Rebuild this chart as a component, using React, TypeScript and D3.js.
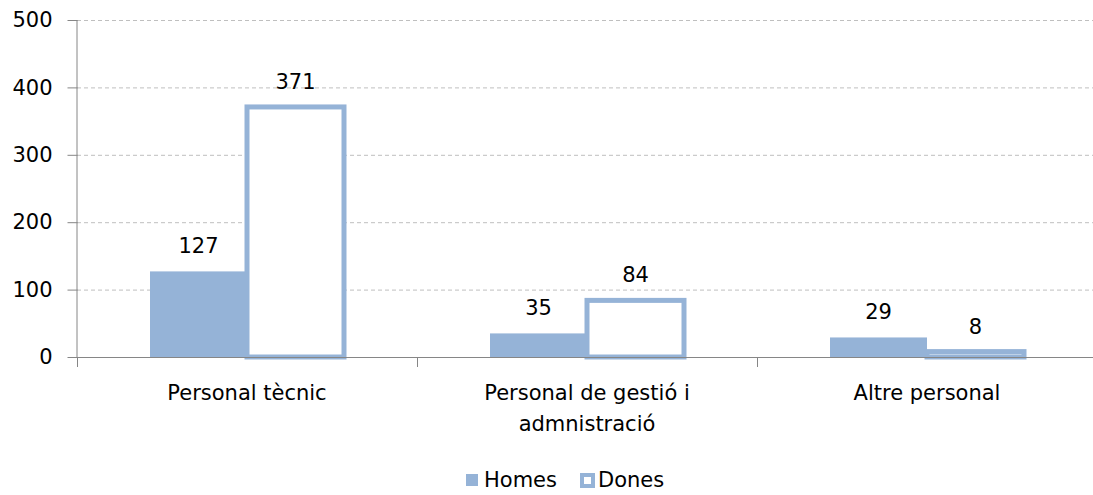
import {useEffect, useRef} from "react";
import * as d3 from "d3";

const categories = ["Personal tècnic", "Personal de gestió i|admnistració", "Altre personal"];
const homes = [127, 35, 29];
const dones = [371, 84, 8];
const yTicks = [0, 100, 200, 300, 400, 500];
const seriesNames = ["Homes", "Dones"];

const W = 1093;
const H = 495;
const BLUE = "#95B3D7";
const FONT = "'DejaVu Sans', sans-serif";
const FS = 21;

export default function App() {
    const ref = useRef<SVGSVGElement>(null);

    useEffect(() => {
        const svg = d3.select(ref.current);
        svg.selectAll("*").remove();

        const margin = {top: 20, right: -4, bottom: 138, left: 77};
        const x = d3.scaleBand<number>()
            .domain(d3.range(categories.length))
            .range([margin.left, W - margin.right])
            .paddingInner(0)
            .paddingOuter(0);
        const y = d3.scaleLinear().domain([0, 500]).range([H - margin.bottom, margin.top]);
        const bw = 97;

        // gridlines
        svg.append("g")
            .selectAll("line")
            .data(yTicks.filter((t) => t > 0))
            .join("line")
            .attr("x1", margin.left)
            .attr("x2", W)
            .attr("y1", (d) => y(d) + 0.5)
            .attr("y2", (d) => y(d) + 0.5)
            .attr("stroke", "#BFBFBF")
            .attr("stroke-dasharray", "4,3");

        // y axis
        const ya = svg.append("g")
            .attr("transform", `translate(${margin.left + 0.5},0)`)
            .call(d3.axisLeft(y).tickValues(yTicks).tickSize(10).tickPadding(15));
        ya.select(".domain").attr("stroke", "#868686").attr("d", `M-0.5,${y(500)}V${y(0)}`);
        ya.selectAll("line").attr("stroke", "#868686");
        ya.selectAll("text").attr("font-family", FONT).attr("font-size", FS).attr("fill", "#000");
        ya.selectAll(".tick").each(function (d) {
            d3.select(this).attr("transform", `translate(0,${y(d as number) + 0.5})`);
        });

        // bars
        const g = svg.append("g");
        g.selectAll("rect.h")
            .data(homes)
            .join("rect")
            .attr("class", "h")
            .attr("x", (_, i) => x(i)! + x.bandwidth() / 2 - bw)
            .attr("y", (d) => y(d))
            .attr("width", bw)
            .attr("height", (d) => y(0) - y(d))
            .attr("fill", BLUE);

        g.selectAll("rect.d")
            .data(dones)
            .join("rect")
            .attr("class", "d")
            .attr("x", (_, i) => x(i)! + x.bandwidth() / 2)
            .attr("y", (d) => y(d))
            .attr("width", bw)
            .attr("height", (d) => y(0) - y(d))
            .attr("fill", "#fff")
            .attr("stroke", BLUE)
            .attr("stroke-width", 5);

        // x axis
        svg.append("line")
            .attr("x1", margin.left)
            .attr("x2", W)
            .attr("y1", y(0) + 0.5)
            .attr("y2", y(0) + 0.5)
            .attr("stroke", "#868686");
        svg.append("g")
            .selectAll("line")
            .data(d3.range(categories.length))
            .join("line")
            .attr("x1", (i) => margin.left + i * x.bandwidth() + 0.5)
            .attr("x2", (i) => margin.left + i * x.bandwidth() + 0.5)
            .attr("y1", y(0))
            .attr("y2", y(0) + 10)
            .attr("stroke", "#868686");

        // value labels
        const lab = (vals: number[], off: number) =>
            svg.append("g")
                .selectAll("text")
                .data(vals)
                .join("text")
                .attr("x", (_, i) => x(i)! + x.bandwidth() / 2 + off)
                .attr("y", (d) => y(d) - 18)
                .attr("text-anchor", "middle")
                .attr("font-family", FONT)
                .attr("font-size", FS)
                .attr("fill", "#000")
                .text((d) => d);
        lab(homes, -bw / 2);
        lab(dones, bw / 2);

        // category labels
        svg.append("g")
            .selectAll("text")
            .data(categories)
            .join("text")
            .attr("x", (_, i) => x(i)! + x.bandwidth() / 2)
            .attr("y", 400)
            .attr("text-anchor", "middle")
            .attr("font-family", FONT)
            .attr("font-size", FS)
            .attr("fill", "#000")
            .each(function (d) {
                const t = d3.select(this);
                d.split("|").forEach((line, k) => {
                    t.append("tspan")
                        .attr("x", t.attr("x"))
                        .attr("dy", k === 0 ? 0 : 31)
                        .text(line);
                });
            });

        // legend
        const leg = svg.append("g").attr("transform", "translate(0,480)");
        const items = [
            {name: seriesNames[0], x: 466},
            {name: seriesNames[1], x: 580},
        ];
        items.forEach((it, i) => {
            if (i === 0) {
                leg.append("rect").attr("x", it.x).attr("y", -6).attr("width", 12).attr("height", 12).attr("fill", BLUE);
            } else {
                leg.append("rect").attr("x", it.x + 2).attr("y", -5).attr("width", 11).attr("height", 11)
                    .attr("fill", "#fff").attr("stroke", BLUE).attr("stroke-width", 4);
            }
            leg.append("text")
                .attr("x", it.x + 18)
                .attr("y", 0)
                .attr("dy", "0.35em")
                .attr("font-family", FONT)
                .attr("font-size", FS)
                .attr("fill", "#000")
                .text(it.name);
        });
    }, []);

    return (
        <svg ref={ref} width={W} height={H} style={{display: "block", position: "absolute", left: 0, top: 0}} />
    );
}
